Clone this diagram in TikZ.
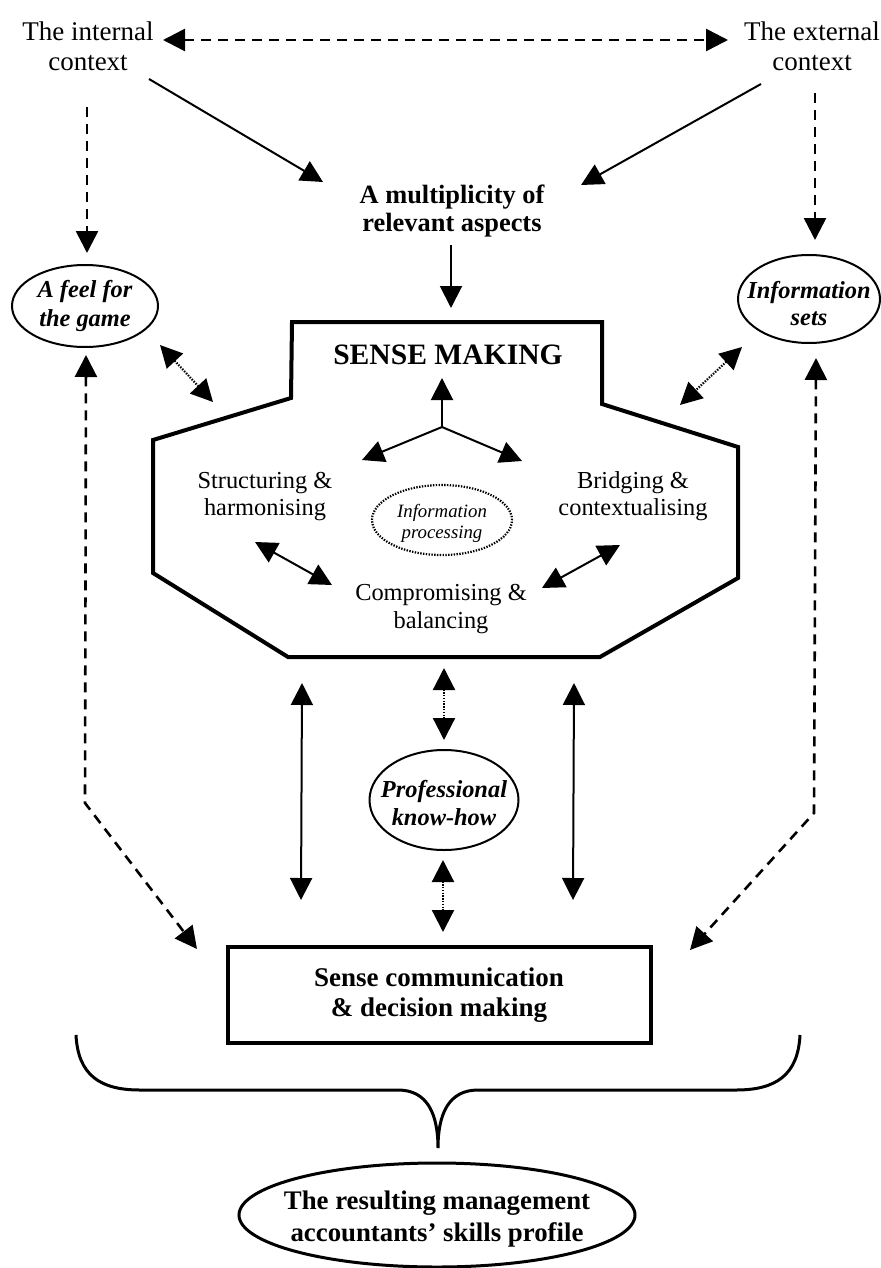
\documentclass[tikz,border=0pt]{standalone}
\usepackage{fontspec}
\setmainfont{Liberation Serif}
\usetikzlibrary{shapes.geometric,arrows.meta}
\begin{document}
\begin{tikzpicture}[x=0.5pt,y=-0.5pt,
  ah/.tip={Triangle[length=11pt,width=11pt]},
  tip/.style={-{ah}},
  dtip/.style={{ah}-{ah}},
  conn/.style={line width=1pt},
  dashc/.style={line width=1.3pt,dash pattern=on 5pt off 3.5pt},
  dotc/.style={line width=1.1pt,dash pattern=on 0.7pt off 0.7pt},
  txt/.style={align=center,inner sep=0pt},
  oval/.style={ellipse,draw,line width=1pt,inner sep=0pt},
  ovaltxt/.style={align=center,inner sep=0pt,font=\fontsize{12.2}{14}\selectfont\bfseries\itshape},
]
\useasboundingbox (0,0) rectangle (881,1268);

% context texts
\node[txt,font=\fontsize{13.5}{15}\selectfont] (intc) at (88,46) {The internal\\context};
\node[txt,font=\fontsize{13.5}{15}\selectfont] (extc) at (812,46) {The external\\context};
\node[txt,font=\fontsize{13.2}{14}\selectfont\bfseries] (mult) at (452,211) {A multiplicity of\\relevant aspects};

% ellipses
\node[oval,minimum width=73pt,minimum height=41pt] (feel) at (85,306) {};
\node[ovaltxt,font=\fontsize{12.2}{14.5}\selectfont\bfseries\itshape] (feelT) at (feel.center) {A feel for\\the game};
\node[oval,minimum width=71pt,minimum height=44pt] (infs) at (809,299) {};
\node[ovaltxt,font=\fontsize{12.2}{13.5}\selectfont\bfseries\itshape] (infsT) at (809,304) {Information\\sets};
\node[oval,minimum width=74.5pt,minimum height=50pt] (prof) at (444,800) {};
\node[ovaltxt] (profT) at (444,803) {Professional\\know-how};

% sense making shape
\draw[line width=2pt,line join=miter] (292,322) -- (602,322) -- (602,404) -- (738,447) -- (738,578)
  -- (600,657) -- (288,657) -- (153,573) -- (153,440) -- (291,398) -- cycle;
\node[font=\fontsize{14.8}{16}\selectfont\bfseries,inner sep=0pt] (sm) at (448,355) {SENSE MAKING};
\node[txt,font=\fontsize{12.2}{13.5}\selectfont] (struct) at (265,497) {Structuring \&\\harmonising};
\node[txt,font=\fontsize{12.2}{13.5}\selectfont] (bridge) at (633,496) {Bridging \&\\contextualising};
\node[txt,font=\fontsize{12.2}{14}\selectfont] (comp) at (441,609) {Compromising \&\\balancing};
\node[ellipse,draw,dotc,minimum width=70pt,minimum height=35pt,inner sep=0pt] (ip) at (442,520) {};
\node[txt,font=\fontsize{9.4}{10.5}\selectfont\itshape] (ipT) at (442,523) {Information\\processing};

% communication box
\node[draw,line width=2pt,minimum width=211.5pt,minimum height=48pt,txt,
  font=\fontsize{13.5}{15}\selectfont\bfseries] (scd) at (439,995) {Sense communication\\\& decision making};

% result ellipse
\node[ellipse,draw,line width=1.5pt,minimum width=198pt,minimum height=52pt,inner sep=0pt] (res) at (437,1215) {};
\node[txt,font=\fontsize{13.4}{16}\selectfont\bfseries] (resT) at (437,1219) {The resulting management\\accountants' skills profile};

% connector coordinates
\coordinate (hL) at (163,40); \coordinate (hR) at (728,40);
\coordinate (iA) at (149,79); \coordinate (iB) at (323,182);
\coordinate (eA) at (761,84); \coordinate (eB) at (581,185);
\coordinate (dLa) at (87,107); \coordinate (dLb) at (87,253);
\coordinate (dRa) at (815,93); \coordinate (dRb) at (815,240);
\coordinate (mA) at (451,245); \coordinate (mB) at (451,308);
\coordinate (fA) at (160,345); \coordinate (fB) at (213,402);
\coordinate (sA) at (742,347); \coordinate (sB) at (680,405);
\coordinate (tc) at (442,427); \coordinate (tU) at (442,378);
\coordinate (tL) at (362,460); \coordinate (tR) at (522,461);
\coordinate (shA) at (255,542); \coordinate (shB) at (332,585);
\coordinate (bcA) at (620,545); \coordinate (bcB) at (542,588);
\coordinate (lgA) at (86,355); \coordinate (lgK) at (85,803); \coordinate (lgB) at (197,949);
\coordinate (rgA) at (816,358); \coordinate (rgK) at (814,813); \coordinate (rgB) at (690,950);
\coordinate (vLa) at (302,683); \coordinate (vLb) at (301,900);
\coordinate (vRa) at (574,683); \coordinate (vRb) at (573,900);
\coordinate (pA) at (444,668); \coordinate (pB) at (444,740);
\coordinate (pC) at (443,860); \coordinate (pD) at (443,932);

% connectors
\draw[dashc,dtip] (hL) -- (hR);
\draw[conn,tip] (iA) -- (iB);
\draw[conn,tip] (eA) -- (eB);
\draw[dashc,tip] (dLa) -- (dLb);
\draw[dashc,tip] (dRa) -- (dRb);
\draw[conn,tip] (mA) -- (mB);
\draw[dotc,dtip] (fA) -- (fB);
\draw[dotc,dtip] (sA) -- (sB);
\draw[conn,tip] (tc) -- (tU);
\draw[conn,tip] (tc) -- (tL);
\draw[conn,tip] (tc) -- (tR);
\draw[conn,dtip] (shA) -- (shB);
\draw[conn,dtip] (bcA) -- (bcB);
\draw[dashc,dtip] (lgA) -- (lgK) -- (lgB);
\draw[dashc,dtip] (rgA) -- (rgK) -- (rgB);
\draw[conn,dtip] (vLa) -- (vLb);
\draw[conn,dtip] (vRa) -- (vRb);
\draw[dotc,dtip] (pA) -- (pB);
\draw[dotc,dtip] (pC) -- (pD);

% brace
\draw[line width=1.5pt] (76,1035) .. controls (78,1075) and (100,1090) .. (140,1090) -- (398,1090)
  .. controls (428,1090) and (438,1115) .. (438,1148)
  .. controls (438,1115) and (448,1090) .. (478,1090) -- (736,1090)
  .. controls (776,1090) and (798,1075) .. (800,1035);
\end{tikzpicture}
\end{document}
